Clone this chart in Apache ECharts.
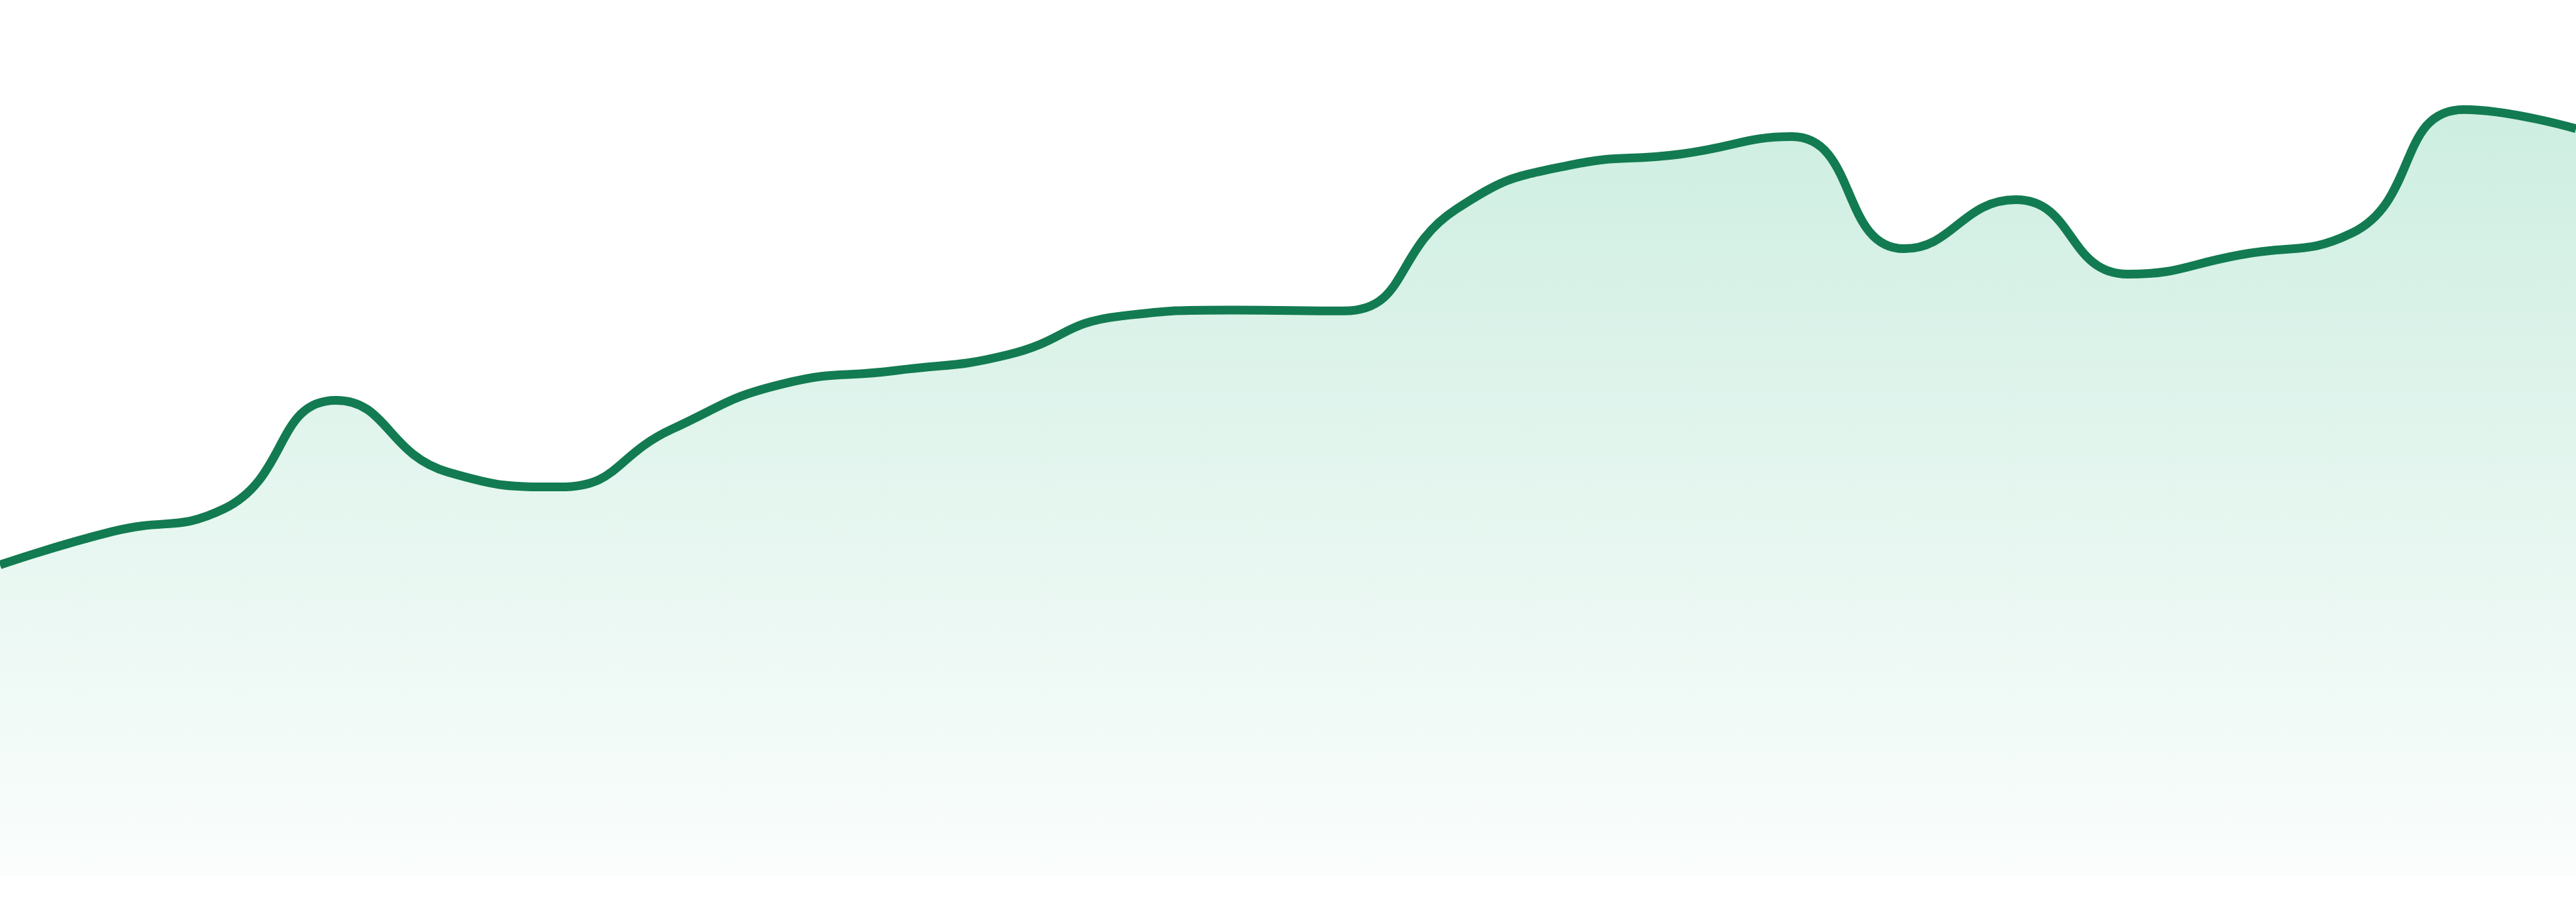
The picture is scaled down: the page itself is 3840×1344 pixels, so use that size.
<!DOCTYPE html>
<html>
<head>
<meta charset="utf-8">
<style>
  html, body { margin: 0; padding: 0; background: #ffffff; }
  #myechart { width: 3840px; height: 1344px; }
</style>
<script src="https://cdn.jsdelivr.net/npm/echarts@6/dist/echarts.min.js"></script>
</head>
<body>
<div id="myechart"></div>
<script>
// categories (24 evenly spaced points, no labels shown)
var categories = ['1', '2', '3', '4', '5', '6', '7', '8', '9', '10', '11', '12',
  '13', '14', '15', '16', '17', '18', '19', '20', '21', '22', '23', '24'];

// series values
var values = [35.5, 39.3, 41.9, 54.3, 46.1, 44.4, 51.0, 56.2, 57.7, 59.5, 63.9, 64.6,
  64.5, 76.1, 81.1, 82.4, 84.4, 71.6, 77.2, 68.7, 70.9, 73.4, 87.5, 85.3];

var myechart = echarts.init(document.getElementById('myechart'));

var option = {
  animation: false,
  grid: { left: 0, right: 0, top: 0, bottom: 39 },
  xAxis: {
    type: 'category',
    data: categories,
    boundaryGap: false,
    show: false
  },
  yAxis: {
    type: 'value',
    min: 0,
    max: 100,
    show: false
  },
  series: [{
    type: 'line',
    data: values,
    smooth: true,
    symbol: 'none',
    lineStyle: { color: '#137b51', width: 13 },
    areaStyle: {
      color: new echarts.graphic.LinearGradient(0, 0, 0, 1, [
        { offset: 0, color: '#b8e6d4' },
        { offset: 1, color: '#f8fcfa' }
      ])
    }
  }]
};

myechart.setOption(option);
</script>
</body>
</html>
